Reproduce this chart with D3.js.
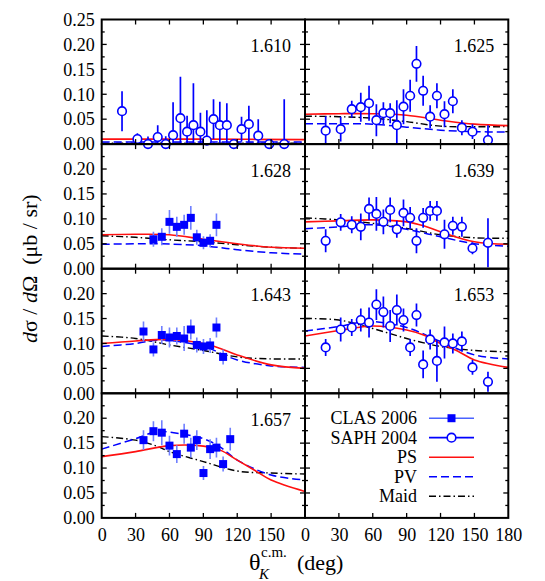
<!DOCTYPE html>
<html><head><meta charset="utf-8">
<script src="https://cdn.jsdelivr.net/npm/d3@7"></script>
<style>
@font-face { font-family: "ChartSerif"; src: local("Liberation Serif"), local("LiberationSerif"), local("LiberationSerif-Regular"), local("Times New Roman"); font-style: normal; }
@font-face { font-family: "ChartSerif"; src: local("Liberation Serif Italic"), local("LiberationSerif-Italic"); font-style: italic; }
html,body{margin:0;padding:0;background:#fff;}
svg{display:block;}
</style>
</head><body>
<svg id="chart" width="545" height="581" font-family="Liberation Serif"></svg>
<script>
// ---------- DATA ----------
const thetaTicks = [0, 30, 60, 90, 120, 150, 180];
const yTicksMajor = [0, 0.05, 0.10, 0.15, 0.20, 0.25];
const yTicksMinor = [0.025, 0.075, 0.125, 0.175, 0.225];
const energies = ["1.610", "1.625", "1.628", "1.639", "1.643", "1.653", "1.657"];
const legendLabels = ["CLAS 2006", "SAPH 2004", "PS", "PV", "Maid"];

// SAPHIR 2004 points [theta, value, error]
const saph1610 = [[18,0.066,0.040],[31.6,0.010,0.012],[41,0.000,0.015],[49.6,0.014,0.024],[56.7,0.000,0.016],[63.2,0.018,0.066],[69.7,0.052,0.083],[75.6,0.025,0.032],[81.2,0.038,0.084],[87.4,0.025,0.038],[93.1,0.007,0.061],[99,0.050,0.040],[104.6,0.038,0.047],[110.8,0.038,0.044],[117,0.000,0.010],[123.8,0.030,0.025],[130.3,0.040,0.037],[138.6,0.017,0.033],[148.3,0.000,0.008],[161.6,0.000,0.090]];
const saph1625 = [[18.3,0.027,0.029],[31.6,0.030,0.025],[41.4,0.070,0.017],[49.4,0.074,0.029],[56.7,0.082,0.035],[63.2,0.048,0.032],[69.4,0.062,0.022],[75.4,0.062,0.020],[81.3,0.038,0.050],[87.2,0.075,0.035],[93.1,0.097,0.032],[98.7,0.161,0.036],[104.6,0.107,0.030],[110.8,0.055,0.023],[116.8,0.097,0.025],[123.5,0.060,0.026],[130.9,0.086,0.024],[138.9,0.033,0.015],[148.3,0.025,0.015],[162,0.008,0.030]];
const saph1639 = [[18.3,0.056,0.023],[31.6,0.093,0.017],[41.4,0.088,0.017],[49.4,0.084,0.027],[56.7,0.120,0.023],[63.2,0.110,0.034],[69.4,0.094,0.025],[75.4,0.118,0.025],[81.3,0.079,0.017],[87.2,0.112,0.027],[93.1,0.102,0.022],[98.7,0.056,0.025],[104.6,0.102,0.020],[110.8,0.116,0.020],[116.8,0.116,0.020],[123.5,0.069,0.029],[130.9,0.086,0.018],[138.9,0.084,0.020],[148.3,0.041,0.012],[162,0.052,0.049]];
const saph1653 = [[18.3,0.092,0.017],[31.6,0.128,0.024],[41.4,0.132,0.017],[49.4,0.147,0.023],[56.7,0.142,0.030],[63.2,0.178,0.031],[69.4,0.163,0.031],[75.4,0.135,0.032],[81.3,0.167,0.031],[87.2,0.147,0.023],[93.1,0.092,0.017],[98.7,0.157,0.023],[104.6,0.058,0.028],[110.8,0.108,0.020],[116.8,0.065,0.042],[123.5,0.102,0.032],[130.9,0.100,0.020],[138.9,0.104,0.020],[148.3,0.052,0.015],[162,0.023,0.020]];

// CLAS 2006 points [theta, value, error]
const clas1628 = [[45.8,0.059,0.015],[53.2,0.064,0.017],[60,0.094,0.024],[66.5,0.084,0.020],[73,0.088,0.020],[78.9,0.102,0.024],[84.2,0.063,0.015],[90.1,0.052,0.013],[96,0.056,0.013],[101.6,0.088,0.023]];
const clas1643 = [[37,0.124,0.020],[45.8,0.088,0.014],[53.2,0.117,0.018],[60,0.112,0.020],[66.5,0.115,0.017],[73,0.110,0.025],[78.9,0.128,0.020],[84.2,0.097,0.015],[90.1,0.094,0.015],[96,0.096,0.015],[101.6,0.132,0.020],[107.5,0.073,0.015]];
const clas1657 = [[37,0.156,0.020],[45.8,0.174,0.020],[53.2,0.171,0.025],[60,0.145,0.020],[66.5,0.128,0.018],[73,0.169,0.020],[78.9,0.141,0.020],[84.2,0.156,0.020],[90.1,0.090,0.014],[96,0.138,0.020],[101.6,0.141,0.020],[107.5,0.108,0.015],[113.8,0.158,0.023]];

// Model curves [theta, value]
const ps1610 = [[0,0.010],[90,0.010],[180,0.009]];
const pv1610 = [[0,0.004],[180,0.004]];
const maid1610 = [[0,0.002],[180,0.002]];
const ps1625 = [[0,0.060],[30,0.061],[60,0.061],[90,0.058],[120,0.048],[150,0.040],[180,0.037]];
const pv1625 = [[0,0.041],[30,0.041],[60,0.040],[90,0.034],[120,0.028],[150,0.025],[180,0.024]];
const maid1625 = [[0,0.056],[30,0.055],[60,0.052],[90,0.045],[120,0.036],[150,0.035],[180,0.035]];
const ps1628 = [[0,0.068],[30,0.069],[60,0.068],[90,0.059],[120,0.050],[150,0.043],[180,0.041]];
const pv1628 = [[0,0.049],[30,0.050],[50,0.050],[90,0.046],[120,0.038],[150,0.032],[180,0.029]];
const maid1628 = [[0,0.066],[30,0.063],[60,0.058],[90,0.054],[120,0.048],[150,0.043],[180,0.041]];
const ps1639 = [[0,0.094],[30,0.096],[60,0.098],[90,0.094],[105,0.086],[120,0.074],[150,0.054],[180,0.049]];
const pv1639 = [[0,0.080],[30,0.084],[60,0.088],[90,0.079],[120,0.064],[150,0.050],[180,0.045]];
const maid1639 = [[0,0.102],[30,0.098],[60,0.091],[90,0.081],[120,0.068],[150,0.062],[180,0.061]];
const ps1643 = [[0,0.100],[30,0.105],[60,0.108],[90,0.100],[105,0.090],[120,0.077],[150,0.057],[180,0.050]];
const pv1643 = [[0,0.094],[30,0.100],[50,0.107],[60,0.106],[90,0.094],[120,0.067],[150,0.055],[180,0.052]];
const maid1643 = [[0,0.115],[30,0.110],[60,0.097],[90,0.086],[120,0.073],[150,0.069],[180,0.069]];
const ps1653 = [[0,0.115],[30,0.126],[60,0.135],[90,0.127],[105,0.117],[120,0.100],[135,0.085],[150,0.067],[180,0.052]];
const pv1653 = [[0,0.125],[30,0.134],[50,0.143],[60,0.144],[90,0.132],[120,0.104],[150,0.077],[180,0.069]];
const maid1653 = [[0,0.150],[30,0.147],[60,0.130],[90,0.110],[120,0.094],[150,0.086],[180,0.083]];
const ps1657 = [[0,0.123],[30,0.133],[60,0.145],[90,0.144],[105,0.136],[120,0.116],[135,0.096],[150,0.076],[180,0.053]];
const pv1657 = [[0,0.138],[30,0.159],[50,0.174],[60,0.172],[90,0.159],[105,0.142],[120,0.116],[150,0.086],[180,0.076]];
const maid1657 = [[0,0.163],[30,0.156],[50,0.143],[60,0.133],[90,0.113],[120,0.094],[150,0.090],[180,0.088]];

const panels = [
  {label: energies[0], saph: saph1610, clas: null, ps: ps1610, pv: pv1610, maid: maid1610},
  {label: energies[1], saph: saph1625, clas: null, ps: ps1625, pv: pv1625, maid: maid1625},
  {label: energies[2], saph: null, clas: clas1628, ps: ps1628, pv: pv1628, maid: maid1628},
  {label: energies[3], saph: saph1639, clas: null, ps: ps1639, pv: pv1639, maid: maid1639},
  {label: energies[4], saph: null, clas: clas1643, ps: ps1643, pv: pv1643, maid: maid1643},
  {label: energies[5], saph: saph1653, clas: null, ps: ps1653, pv: pv1653, maid: maid1653},
  {label: energies[6], saph: null, clas: clas1657, ps: ps1657, pv: pv1657, maid: maid1657},
  {legend: true}
];

// ---------- STYLE / LAYOUT ----------
const FONT = '"Liberation Serif", "ChartSerif", "Times New Roman", "Tinos"';
const RED = "#ff1010", BLUE = "#0000ff", CLAS_BAR = "#6f7fff";
const left0 = 101.7, pw = 203.3, top0 = 19.5, ph = 124.6;

const svg = d3.select("#chart");
const defs = svg.append("defs");

const x = d3.scaleLinear().domain([0, 180]).range([0, pw]);
const y = d3.scaleLinear().domain([0, 0.25]).range([ph, 0]);
const line = d3.line().x(d => x(d[0])).y(d => y(d[1])).curve(d3.curveCatmullRom.alpha(0.5));

function txt(sel, size) {
  return sel.attr("font-family", "Liberation Serif").style("font-family", FONT)
    .attr("font-size", size).attr("fill", "#000");
}

panels.forEach((p, i) => {
  const col = i % 2, row = Math.floor(i / 2);
  const gx = left0 + col * pw, gy = top0 + row * ph;
  const g = svg.append("g").attr("transform", `translate(${gx},${gy})`);
  const cid = "clip" + i;
  defs.append("clipPath").attr("id", cid).append("rect").attr("width", pw).attr("height", ph);
  const inner = g.append("g").attr("clip-path", `url(#${cid})`);

  if (!p.legend) {
    inner.append("path").attr("d", line(p.maid)).attr("fill", "none").attr("stroke", "#000")
      .attr("stroke-width", 1.4).attr("stroke-dasharray", "7,3,1.5,3");
    inner.append("path").attr("d", line(p.pv)).attr("fill", "none").attr("stroke", BLUE)
      .attr("stroke-width", 1.5).attr("stroke-dasharray", "8,4");
    inner.append("path").attr("d", line(p.ps)).attr("fill", "none").attr("stroke", RED)
      .attr("stroke-width", 1.6);

    if (p.clas) {
      inner.selectAll(".cbar").data(p.clas).join("line")
        .attr("x1", d => x(d[0])).attr("x2", d => x(d[0]))
        .attr("y1", d => y(d[1] - d[2])).attr("y2", d => y(d[1] + d[2]))
        .attr("stroke", CLAS_BAR).attr("stroke-width", 1.6);
      g.selectAll(".csq").data(p.clas).join("rect")
        .attr("x", d => x(d[0]) - 4).attr("y", d => y(d[1]) - 4)
        .attr("width", 8).attr("height", 8).attr("fill", BLUE);
    }
    if (p.saph) {
      inner.selectAll(".sbar").data(p.saph).join("line")
        .attr("x1", d => x(d[0])).attr("x2", d => x(d[0]))
        .attr("y1", d => y(d[1] - d[2])).attr("y2", d => y(d[1] + d[2]))
        .attr("stroke", BLUE).attr("stroke-width", 1.7);
      g.selectAll(".scirc").data(p.saph).join("circle")
        .attr("cx", d => x(d[0])).attr("cy", d => y(d[1])).attr("r", 4.3)
        .attr("fill", "#fff").attr("stroke", BLUE).attr("stroke-width", 1.6);
    }
    txt(g.append("text").attr("x", pw - 14).attr("y", 32.5).attr("text-anchor", "end"), 18).text(p.label);
  } else {
    const lx1 = 124, lx2 = 169, tx = 112;
    const rowsY = [y(0.2), y(0.2) + 19.5, y(0.2) + 39, y(0.2) + 58.5, y(0.2) + 78];
    legendLabels.forEach((lab, k) => {
      const ly = rowsY[k];
      txt(g.append("text").attr("x", tx).attr("y", ly + 6).attr("text-anchor", "end"), 18).text(lab);
      const ln = g.append("line").attr("x1", lx1).attr("x2", lx2).attr("y1", ly).attr("y2", ly);
      if (k === 0) {
        ln.attr("stroke", "#4a63ff").attr("stroke-width", 1.6);
        g.append("rect").attr("x", (lx1 + lx2) / 2 - 4).attr("y", ly - 4).attr("width", 8).attr("height", 8).attr("fill", BLUE);
      } else if (k === 1) {
        ln.attr("stroke", BLUE).attr("stroke-width", 1.7);
        g.append("circle").attr("cx", (lx1 + lx2) / 2).attr("cy", ly).attr("r", 4.3)
          .attr("fill", "#fff").attr("stroke", BLUE).attr("stroke-width", 1.6);
      } else if (k === 2) {
        ln.attr("stroke", RED).attr("stroke-width", 1.6);
      } else if (k === 3) {
        ln.attr("stroke", BLUE).attr("stroke-width", 1.5).attr("stroke-dasharray", "8,4");
      } else {
        ln.attr("stroke", "#000").attr("stroke-width", 1.4).attr("stroke-dasharray", "7,3,1.5,3");
      }
    });
  }

  // axes with inward ticks on all four sides
  const tickLen = 5, minorLen = 3;
  const axG = g.append("g").attr("stroke", "#000").attr("stroke-width", 1.3);
  thetaTicks.forEach(t => {
    if (t === 0 || t === 180) return;
    axG.append("line").attr("x1", x(t)).attr("x2", x(t)).attr("y1", ph).attr("y2", ph - tickLen);
    axG.append("line").attr("x1", x(t)).attr("x2", x(t)).attr("y1", 0).attr("y2", tickLen);
  });
  yTicksMajor.forEach(v => {
    if (v === 0 || v === 0.25) return;
    axG.append("line").attr("x1", 0).attr("x2", tickLen).attr("y1", y(v)).attr("y2", y(v));
    axG.append("line").attr("x1", pw).attr("x2", pw - tickLen).attr("y1", y(v)).attr("y2", y(v));
  });
  yTicksMinor.forEach(v => {
    axG.append("line").attr("x1", 0).attr("x2", minorLen).attr("y1", y(v)).attr("y2", y(v));
    axG.append("line").attr("x1", pw).attr("x2", pw - minorLen).attr("y1", y(v)).attr("y2", y(v));
  });
  g.append("rect").attr("width", pw).attr("height", ph).attr("fill", "none")
    .attr("stroke", "#000").attr("stroke-width", 2);

  // y tick labels on left column
  if (col === 0) {
    const labs = row === 0 ? yTicksMajor : yTicksMajor.filter(v => v < 0.24);
    const yAxis = d3.axisLeft(y).tickValues(labs).tickFormat(d3.format(".2f")).tickSize(0).tickPadding(7);
    const ya = g.append("g").call(yAxis);
    ya.attr("font-family", "Liberation Serif").attr("font-size", 18);
    ya.select(".domain").remove();
    txt(ya.selectAll("text"), 18);
  }
  // x tick labels on bottom row
  if (row === 3) {
    const labs = col === 0 ? thetaTicks.filter(t => t < 180) : thetaTicks;
    const xAxis = d3.axisBottom(x).tickValues(labs).tickFormat(d3.format("d")).tickSize(0).tickPadding(10);
    const xa = g.append("g").attr("transform", `translate(0,${ph})`).call(xAxis);
    xa.attr("font-family", "Liberation Serif").attr("font-size", 18);
    xa.select(".domain").remove();
    txt(xa.selectAll("text"), 18);
  }
});

// axis titles
const yt = txt(svg.append("text").attr("transform", `translate(37,${top0 + 2 * ph}) rotate(-90)`)
  .attr("text-anchor", "middle"), 22);
yt.append("tspan").attr("font-style", "italic").text("d");
yt.append("tspan").text("σ / ");
yt.append("tspan").attr("font-style", "italic").text("d");
yt.append("tspan").text("Ω\u00a0\u00a0(μb / sr)");

txt(svg.append("text").attr("x", 249).attr("y", 570), 24).text("θ");
txt(svg.append("text").attr("x", 261).attr("y", 557), 15).text("c.m.");
txt(svg.append("text").attr("x", 259).attr("y", 579), 15).attr("font-style", "italic").text("K");
txt(svg.append("text").attr("x", 297).attr("y", 570), 22).text("(deg)");
</script>
</body></html>
